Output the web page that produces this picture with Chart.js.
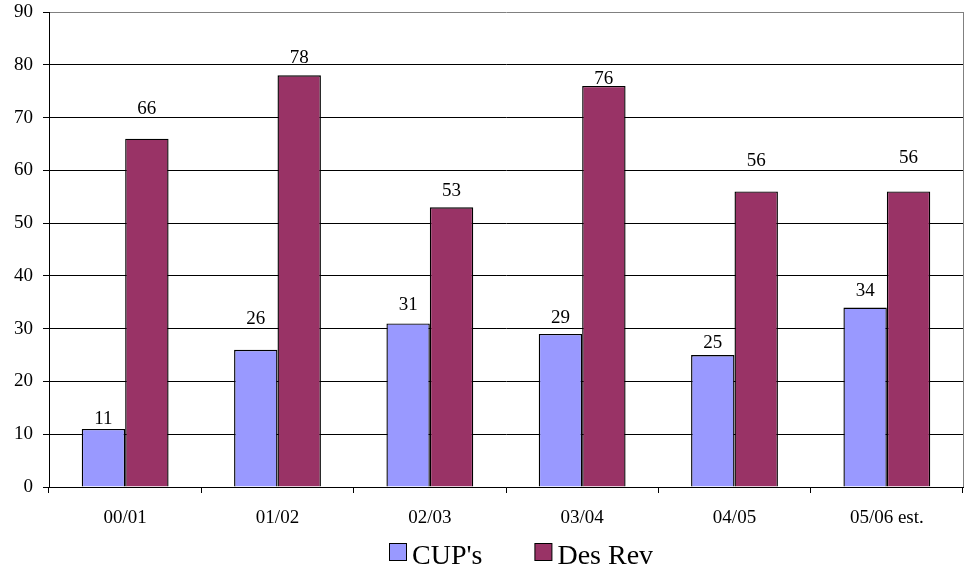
<!DOCTYPE html>
<html>
<head>
<meta charset="utf-8">
<title>CUP's and Des Rev</title>
<script src="https://cdn.jsdelivr.net/npm/chart.js@4.4.1/dist/chart.umd.min.js"></script>
<style>
  html, body { margin: 0; padding: 0; background: #ffffff; }
  #wrap { width: 968px; height: 571px; }
</style>
</head>
<body>
<div id="wrap"><canvas id="chart" width="968" height="571"></canvas></div>
<script>
// Fiscal years on the category axis
const years = ['00/01', '01/02', '02/03', '03/04', '04/05', '05/06 est.'];
// Counts per year
const cups = [11, 26, 31, 29, 25, 34];
const desRev = [66, 78, 53, 76, 56, 56];
// Value axis ticks
const yMin = 0;
const yMax = 90;
const yStep = 10;

// Vertical gap (px) between each bar top and the centre of its value label
const cupsLabelGap = [10, 31, 18, 16, 12, 17];
const desRevLabelGap = [30, 17, 16, 7, 30, 33];

const FONT = '"Liberation Serif", "Times New Roman", serif';
const TEXT_SIZE = 19;

// Value labels above each bar
const valueLabels = {
  id: 'valueLabels',
  afterDatasetsDraw(chart) {
    const ctx = chart.ctx;
    const gaps = [cupsLabelGap, desRevLabelGap];
    ctx.save();
    ctx.font = TEXT_SIZE + 'px ' + FONT;
    ctx.fillStyle = '#000000';
    ctx.textAlign = 'center';
    ctx.textBaseline = 'middle';
    chart.data.datasets.forEach((ds, di) => {
      const meta = chart.getDatasetMeta(di);
      meta.data.forEach((bar, i) => {
        ctx.fillText(String(ds.data[i]), bar.x, bar.y - gaps[di][i]);
      });
    });
    ctx.restore();
  }
};

// Grey plot-area frame on the right, and the legend under the axis labels
const frameAndLegend = {
  id: 'frameAndLegend',
  afterDraw(chart) {
    const ctx = chart.ctx;
    const a = chart.chartArea;
    ctx.save();
    ctx.strokeStyle = '#808080';
    ctx.lineWidth = 1;
    ctx.beginPath();
    ctx.moveTo(Math.round(a.right) + 0.5, a.top);
    ctx.lineTo(Math.round(a.right) + 0.5, a.bottom);
    ctx.stroke();

    // legend
    ctx.font = '28px ' + FONT;
    ctx.textBaseline = 'alphabetic';
    ctx.textAlign = 'left';
    const box = 17, boxGap = 6, itemGap = 52;
    const items = chart.data.datasets.map(ds => ({
      text: ds.label,
      color: ds.backgroundColor,
      w: box + boxGap + ctx.measureText(ds.label).width
    }));
    const total = items.reduce((s, it) => s + it.w, 0) + itemGap * (items.length - 1);
    let x = Math.round(521 - total / 2);
    const boxTop = 543, baseline = 564;
    items.forEach(it => {
      ctx.fillStyle = it.color;
      ctx.fillRect(x + 0.5, boxTop + 0.5, box, box);
      ctx.strokeStyle = '#000000';
      ctx.lineWidth = 1;
      ctx.strokeRect(x + 0.5, boxTop + 0.5, box, box);
      ctx.fillStyle = '#000000';
      ctx.fillText(it.text, x + box + boxGap, baseline);
      x += it.w + itemGap;
    });
    ctx.restore();
  }
};

new Chart(document.getElementById('chart'), {
  type: 'bar',
  data: {
    labels: years,
    datasets: [
      {
        label: "CUP's",
        data: cups,
        backgroundColor: '#9999FF',
        borderColor: '#000000',
        borderWidth: 1.4,
        categoryPercentage: 0.57,
        barPercentage: 1.0
      },
      {
        label: 'Des Rev',
        data: desRev,
        backgroundColor: '#993366',
        borderColor: '#000000',
        borderWidth: 1.4,
        categoryPercentage: 0.57,
        barPercentage: 1.0
      }
    ]
  },
  options: {
    responsive: false,
    animation: false,
    layout: { padding: { left: 0, right: 5, top: 12, bottom: 0 } },
    plugins: {
      legend: { display: false },
      tooltip: { enabled: false }
    },
    scales: {
      x: {
        grid: {
          display: true,
          drawOnChartArea: false,
          drawTicks: true,
          tickLength: 6,
          color: '#000000',
          offset: true
        },
        border: { display: true, color: '#000000', width: 1 },
        ticks: {
          color: '#000000',
          font: { family: FONT, size: TEXT_SIZE },
          padding: 14,
          maxRotation: 0,
          autoSkip: false
        },
        afterFit(scale) {
          scale.height = 84;
          scale.paddingLeft = 0;
          scale.paddingRight = 0;
        }
      },
      y: {
        min: yMin,
        max: yMax,
        grid: {
          color: ctx => (ctx.tick && ctx.tick.value === yMax) ? '#808080' : '#000000',
          tickColor: '#000000',
          drawTicks: true,
          tickLength: 6,
          lineWidth: 1
        },
        border: { display: true, color: '#000000', width: 1 },
        ticks: {
          stepSize: yStep,
          color: '#000000',
          font: { family: FONT, size: TEXT_SIZE },
          padding: 10
        },
        afterFit(scale) {
          scale.width = 49;
          scale.paddingTop = 0;
          scale.paddingBottom = 0;
        }
      }
    }
  },
  plugins: [valueLabels, frameAndLegend]
});
</script>
</body>
</html>
